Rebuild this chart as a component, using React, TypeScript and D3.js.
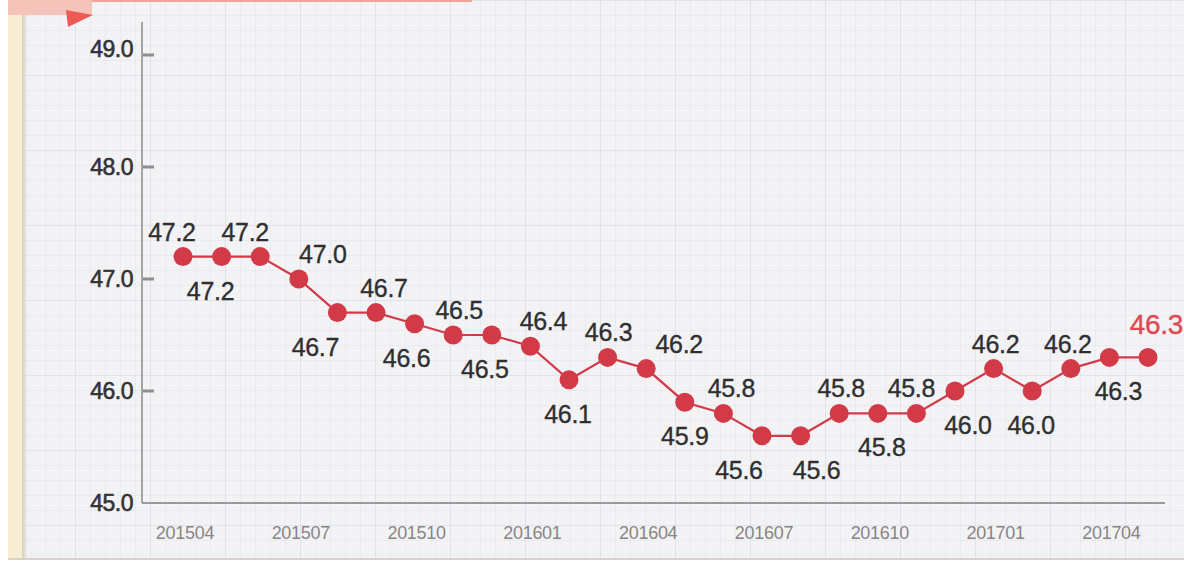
import React from 'react';
import * as d3 from 'd3';

// monthly series, 201504 .. 201705
const months = [
  '201504', '201505', '201506', '201507', '201508', '201509', '201510', '201511', '201512',
  '201601', '201602', '201603', '201604', '201605', '201606', '201607', '201608', '201609',
  '201610', '201611', '201612', '201701', '201702', '201703', '201704', '201705',
];
const values = [
  47.2, 47.2, 47.2, 47.0, 46.7, 46.7, 46.6, 46.5, 46.5,
  46.4, 46.1, 46.3, 46.2, 45.9, 45.8, 45.6, 45.6, 45.8,
  45.8, 45.8, 46.0, 46.2, 46.0, 46.2, 46.3, 46.3,
];
const xTickLabels = ['201504', '201507', '201510', '201601', '201604', '201607', '201610', '201701', '201704'];
const yTicks = [45, 46, 47, 48, 49];

// label side: 't' above the dot, 'b' below; second value nudges the label sideways
const labelLayout: [string, number][] = [
  ['t', -11], ['b', -11], ['t', -15], ['t', 24], ['b', -22], ['t', 8], ['b', -8], ['t', 6], ['b', -7],
  ['t', 13], ['b', -1], ['t', 1], ['t', 33], ['b', 0], ['t', 8], ['b', -23], ['b', 16], ['t', 2],
  ['b', 4], ['t', -5], ['b', 13], ['t', 2], ['b', -1], ['t', -3], ['b', 9], ['t', 10],
];

const W = 1184;
const H = 562;
const RED = '#d33a48';

const App = () => {
  const x = d3.scalePoint<string>().domain(months).range([183, 1148]);
  const y = d3.scaleLinear().domain([45, 49]).range([503, 55]);

  const line = d3.line<number>()
    .x((_, i) => x(months[i]) as number)
    .y(d => y(d));

  return (
    <svg width={W} height={H} style={{ position: 'absolute', left: 0, top: 0, display: 'block' }}
      fontFamily="'Liberation Sans', Arial, sans-serif">
      <defs>
        <pattern id="minor" width="15" height="15" patternUnits="userSpaceOnUse">
          <path d="M15 0 L0 0 0 15" fill="none" stroke="#dfe4ec" strokeWidth="1" />
        </pattern>
        <pattern id="major" width="75" height="75" patternUnits="userSpaceOnUse">
          <path d="M75 0 L0 0 0 75" fill="none" stroke="#d6dde8" strokeWidth="1.2" />
        </pattern>
        <linearGradient id="edgeShade" x1="0" x2="1" y1="0" y2="0">
          <stop offset="0%" stopColor="#c9bfa8" stopOpacity="0.7" />
          <stop offset="100%" stopColor="#c9bfa8" stopOpacity="0" />
        </linearGradient>
      </defs>

      {/* paper */}
      <rect x={0} y={0} width={W} height={H} fill="#ffffff" />
      <rect x={22} y={0} width={W - 22} height={558} fill="#f3f3f5" />
      <rect x={22} y={0} width={W - 22} height={558} fill="url(#minor)" />
      <rect x={22} y={0} width={W - 22} height={558} fill="url(#major)" />
      <rect x={8} y={0} width={14} height={560} fill="#f8edd2" />
      <rect x={22} y={0} width={6} height={558} fill="url(#edgeShade)" />
      <line x1={8} x2={W} y1={559} y2={559} stroke="#d8d2c6" strokeWidth={2} />

      {/* top banner */}
      <rect x={22} y={0} width={450} height={2} fill="#f2a394" />
      <rect x={8} y={0} width={84} height={15} fill="#f6c3bb" />
      <path d="M66 10 L93 15 L68 27 Z" fill="#ee5b55" />

      {/* axes */}
      <line x1={142} x2={142} y1={22} y2={503} stroke="#8a8a8a" strokeWidth={1.5} />
      <line x1={142} x2={1165} y1={503} y2={503} stroke="#9a9a9a" strokeWidth={2} />
      {yTicks.map(t => (
        <g key={t}>
          {t > 45 && <line x1={143} x2={154} y1={y(t)} y2={y(t)} stroke="#8e8e8e" strokeWidth={3} />}
          <text x={133} y={t === 49 ? y(t) - 6 : y(t)} dy="0.36em" textAnchor="end" fontSize={23}
            fill="#333" stroke="#333" strokeWidth={0.6} letterSpacing={-0.5}>
            {t.toFixed(1)}
          </text>
        </g>
      ))}
      {xTickLabels.map(m => (
        <text key={m} x={(x(m) as number) + 2} y={533} dy="0.36em" textAnchor="middle" fontSize={18}
          fill="#8a8585" letterSpacing={-0.3}>
          {m}
        </text>
      ))}

      {/* series */}
      <path d={line(values) || ''} fill="none" stroke={RED} strokeWidth={2.2} />
      {values.map((v, i) => (
        <circle key={i} cx={x(months[i]) as number} cy={y(v)} r={9.5} fill={RED} />
      ))}
      {values.map((v, i) => {
        const [side, dx] = labelLayout[i];
        const last = i === values.length - 1;
        const color = last ? '#dd4a52' : '#2f2f2f';
        return (
          <text key={'l' + i}
            x={last ? W - 1 : (x(months[i]) as number) + dx}
            y={y(v) + (side === 't' ? (last ? -33 : -25) : 34)}
            dy="0.36em"
            textAnchor={last ? 'end' : 'middle'}
            fontSize={last ? 28 : 25}
            fill={color}
            stroke={color}
            strokeWidth={0.35}
            letterSpacing={-0.3}>
            {v.toFixed(1)}
          </text>
        );
      })}
    </svg>
  );
};

export default App;
